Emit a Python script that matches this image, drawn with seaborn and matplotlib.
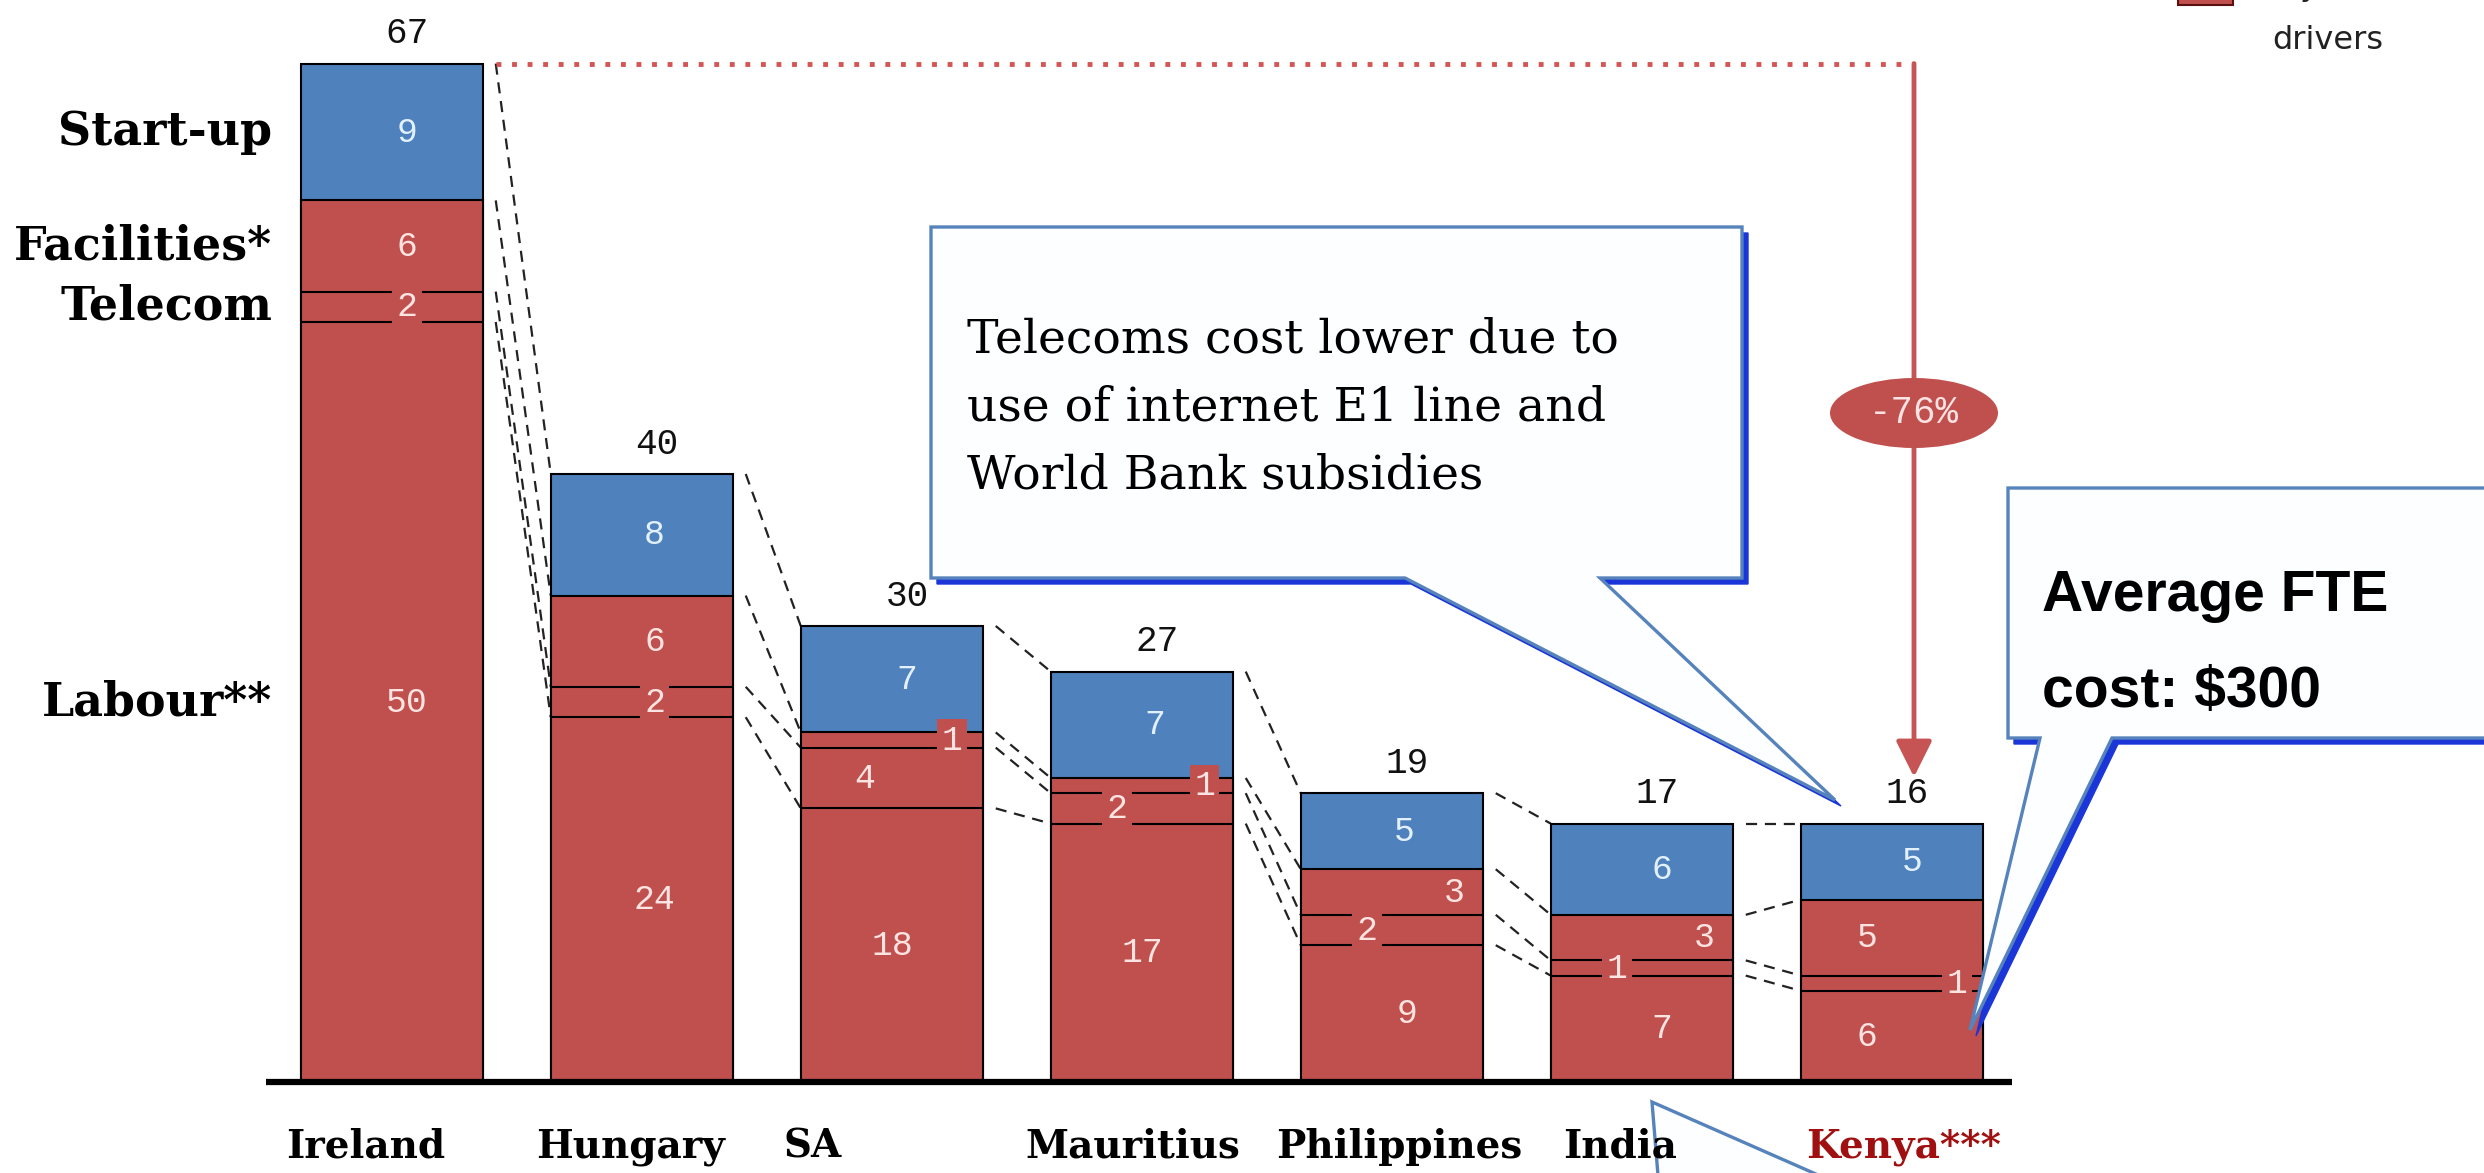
import numpy as np
import pandas as pd
import seaborn as sns
import matplotlib
matplotlib.use("Agg")
import matplotlib.pyplot as plt
from matplotlib.patches import Polygon, Ellipse, Rectangle

# ---------------------------------------------------------------- data
countries   = ["Ireland", "Hungary", "SA", "Mauritius", "Philippines", "India", "Kenya***"]
labour      = [50, 24, 18, 17, 9, 7, 6]
telecom     = [2, 2, 4, 2, 2, 1, 1]
facilities  = [6, 6, 1, 1, 3, 3, 5]
startup     = [9, 8, 7, 7, 5, 6, 5]
totals      = [67, 40, 30, 27, 19, 17, 16]
cost_names  = ["Start-up", "Facilities*", "Telecom", "Labour**"]
reduction   = "-76%"
note_telecom = ["Telecoms cost lower due to", "use of internet E1 line and", "World Bank subsidies"]
note_fte     = ["Average FTE", "cost: $300"]
legend_text  = ["Key cost", "drivers"]

# ---------------------------------------------------------------- style
BLUE, RED = "#4F81BD", "#C0504D"
TXT_ON_BLUE, TXT_ON_RED = "#e3f1ff", "#fde4e2"
MONO = "Liberation Mono"
SERIF = "DejaVu Serif"
BAR_W = 0.73

# horizontal nudges of the in-bar numbers (in category units)
dx_start = [0.06, 0.05, 0.06, 0.05, 0.05, 0.08, 0.08]
dx_lab   = [0.06, 0.05, 0.00, 0.00, 0.06, 0.08, -0.10]
dx_tel   = [0.06, 0.05, -0.11, -0.10, -0.10, -0.10, 0.26]
dx_fac   = [0.06, 0.05, 0.24, 0.25, 0.25, 0.25, -0.10]
dx_name  = [-0.06, -0.06, -0.07, -0.10, -0.10, 0.05, 0.02]

W, H, DPI = 2484, 1173, 100
# pixel frame of the drawing: category 0 centred at x=392, 250 px per slot,
# baseline at y=1082 (from top), 15.2 px per unit of cost
PX_X0, PX_STEP, PX_Y0, PX_UNIT = 392, 250, 1082, 15.2
def X(px):
    return (px - PX_X0) / PX_STEP
def Y(py):
    return (PX_Y0 - py) / PX_UNIT

sns.set_theme(style="white")
plt.rcParams["font.family"] = ["DejaVu Sans"]

df = pd.DataFrame({"country": countries, "labour": labour, "telecom": telecom,
                   "facilities": facilities, "startup": startup})
df["lab_tel"] = df.labour + df.telecom
df["red_top"] = df.lab_tel + df.facilities
df["bar_top"] = df.red_top + df.startup

fig = plt.figure(figsize=(W / DPI, H / DPI), dpi=DPI)
ax = fig.add_axes([0, 0, 1, 1])

# stacked bars: full height in blue, red cost drivers on top of it
sns.barplot(data=df, x="country", y="bar_top", color=BLUE, saturation=1, width=BAR_W,
            edgecolor="black", linewidth=1.5, errorbar=None, ax=ax, zorder=2)
sns.barplot(data=df, x="country", y="red_top", color=RED, saturation=1, width=BAR_W,
            edgecolor="black", linewidth=1.5, errorbar=None, ax=ax, zorder=2)

ax.set_xlim(X(0), X(W))
ax.set_ylim(Y(H), Y(0))
ax.axis("off")

n = len(countries)
idx = np.arange(n)
half = BAR_W / 2

# boundaries between the red segments
for i in idx:
    ax.hlines([df.labour[i], df.lab_tel[i]], i - half, i + half, color="black", lw=1.5, zorder=3)

# dashed connectors between neighbouring bars
levels = df[["bar_top", "red_top", "lab_tel", "labour"]].to_numpy()
for i in idx[:-1]:
    for a, b in zip(levels[i], levels[i + 1]):
        ax.plot([i + half + 0.05, i + 1 - half], [a, b], color="#222222", lw=1.6,
                ls=(0, (5, 3.5)), zorder=1)

# baseline
ax.plot([X(266), X(2012)], [0, 0], color="black", lw=4.5, solid_capstyle="butt", zorder=4)


def callout(pts_px, offset=6, z=8):
    pts = [(X(px), Y(py)) for px, py in pts_px]
    shadow = [(X(px + offset), Y(py + offset)) for px, py in pts_px]
    ax.add_patch(Polygon(shadow, closed=True, fc="#1b36d8", ec="#1b36d8", lw=1, zorder=z))
    ax.add_patch(Polygon(pts, closed=True, fc="#fdfeff", ec="#5683bb", lw=2.4,
                         joinstyle="miter", zorder=z + 0.5))


# tail of a note that continues below the figure (sits under the category names)
callout([(1652, 1102), (1875, 1200), (1660, 1200)], z=3)

# numbers inside the segments
red_box = dict(boxstyle="square,pad=0.12", fc=RED, ec="none")
for i in idx:
    L, T, F, S = labour[i], telecom[i], facilities[i], startup[i]
    ax.text(i + dx_start[i], df.red_top[i] + S / 2, f"{S}", ha="center", va="center",
            family=MONO, fontsize=25, color=TXT_ON_BLUE, zorder=5)
    ax.text(i + dx_fac[i], df.lab_tel[i] + F / 2, f"{F}", ha="center", va="center",
            family=MONO, fontsize=25, color=TXT_ON_RED, bbox=red_box, zorder=5)
    ax.text(i + dx_tel[i], L + T / 2, f"{T}", ha="center", va="center",
            family=MONO, fontsize=25, color=TXT_ON_RED, bbox=red_box, zorder=5)
    ax.text(i + dx_lab[i], L / 2, f"{L}", ha="center", va="center",
            family=MONO, fontsize=25, color=TXT_ON_RED, zorder=5)
    ax.text(i + 0.06, df.bar_top[i] + 0.8, f"{totals[i]}", ha="center", va="bottom",
            family=MONO, fontsize=26, color="#111111", zorder=5)
    ax.text(i - half + dx_name[i], Y(1147), countries[i], ha="left", va="center",
            family=SERIF, fontweight="bold", fontsize=28,
            color="#a01010" if i == n - 1 else "black", zorder=5)

# cost-category names, level with the middle of Ireland's segments
mids = [df.red_top[0] + startup[0] / 2, df.lab_tel[0] + facilities[0] / 2,
        labour[0] + telecom[0] / 2, labour[0] / 2]
for name, y in zip(cost_names, mids):
    ax.text(X(272), y, name, ha="right", va="center", family=SERIF,
            fontweight="bold", fontsize=33, color="black", zorder=5)

# reduction from the first to the last country
x_arrow = X(1914)
ax.plot([0 + half + 0.05, x_arrow], [df.bar_top[0]] * 2, color="#d45555", lw=3.5,
        ls=(0, (1, 2.2)), zorder=3)
ax.annotate("", xy=(x_arrow, Y(777)), xytext=(x_arrow, df.bar_top[0]),
            arrowprops=dict(arrowstyle="-|>,head_length=1.1,head_width=0.55",
                            color="#c65454", lw=3.5, shrinkA=0, shrinkB=0,
                            mutation_scale=20), zorder=5)
ax.add_patch(Ellipse((x_arrow, Y(413)), 168 / PX_STEP, 70 / PX_UNIT, fc=RED, ec="none", zorder=6))
ax.text(x_arrow, Y(413), reduction, ha="center", va="center", family=MONO,
        fontsize=27, color="#fbe3e3", zorder=7)

# telecom note
callout([(931, 227), (1742, 227), (1742, 578), (1600, 578), (1835, 800),
         (1405, 578), (931, 578)])
for k, line in enumerate(note_telecom):
    ax.text(X(967), Y(352 + 68 * k), line, ha="left", va="baseline", family=SERIF,
            fontsize=34, color="black", zorder=10)

# average FTE cost note
callout([(2008, 488), (2600, 488), (2600, 738), (2112, 738), (1970, 1030),
         (2040, 738), (2008, 738)])
for k, line in enumerate(note_fte):
    ax.text(X(2042), Y(611 + 96 * k), line, ha="left", va="baseline",
            family="Liberation Sans", fontweight="bold", fontsize=41,
            color="black", zorder=10)

# legend corner
ax.add_patch(Rectangle((X(2178), Y(5)), 55 / PX_STEP, 25 / PX_UNIT, fc=RED,
                       ec="#5a1010", lw=1.5, zorder=5))
ax.text(X(2328), Y(-14), legend_text[0], ha="center", va="center", fontsize=23,
        color="#222222", zorder=5)
ax.text(X(2328), Y(40), legend_text[1], ha="center", va="center", fontsize=23,
        color="#222222", zorder=5)

fig.savefig("out.png", dpi=DPI, facecolor="white")
